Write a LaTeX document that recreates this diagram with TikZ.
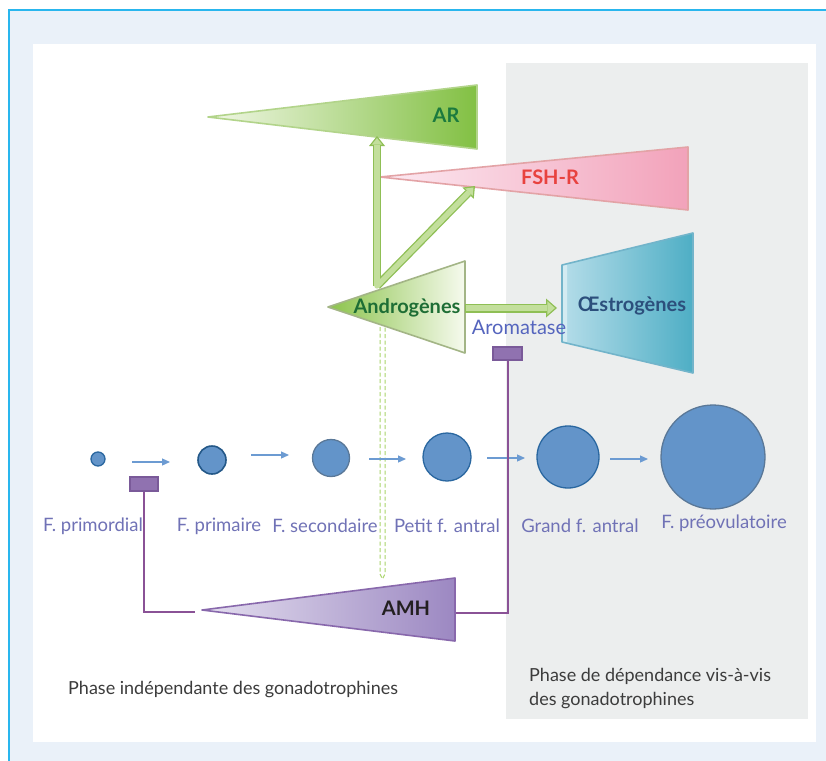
\documentclass[tikz,border=0pt]{standalone}
\usepackage{fontspec}
\setmainfont{Lato}
\usetikzlibrary{arrows.meta}
\definecolor{bgblue}{HTML}{EAF1F9}
\definecolor{frameblue}{HTML}{29B6EE}
\definecolor{panelgray}{HTML}{ECEEEE}
\definecolor{arL}{HTML}{F1F7E6}
\definecolor{arR}{HTML}{82C043}
\definecolor{arB}{HTML}{B2D48A}
\definecolor{arT}{HTML}{1B7A3E}
\definecolor{fsL}{HTML}{FCEAF2}
\definecolor{fsR}{HTML}{F2A2BA}
\definecolor{fsB}{HTML}{E3A3A6}
\definecolor{fsT}{HTML}{E8423F}
\definecolor{anL}{HTML}{8BC34A}
\definecolor{anR}{HTML}{F6FAEE}
\definecolor{anB}{HTML}{A3B586}
\definecolor{anT}{HTML}{1E6E35}
\definecolor{oeL}{HTML}{B5DDE9}
\definecolor{oeR}{HTML}{4EAEC5}
\definecolor{oeB}{HTML}{72B4CA}
\definecolor{oeT}{HTML}{2C4F7C}
\definecolor{amL}{HTML}{E4DFEF}
\definecolor{amR}{HTML}{9C88C2}
\definecolor{amB}{HTML}{8868AC}
\definecolor{amT}{HTML}{231F20}
\definecolor{gOut}{HTML}{8FBF55}
\definecolor{gIn}{HTML}{C3DF9C}
\definecolor{dashg}{HTML}{A9D46B}
\definecolor{folFill}{HTML}{6394C9}
\definecolor{folDark}{HTML}{2A67A0}
\definecolor{folGray}{HTML}{5A7898}
\definecolor{folArrow}{HTML}{6C9BD2}
\definecolor{labcol}{HTML}{7072B6}
\definecolor{aromcol}{HTML}{5565BE}
\definecolor{purp}{HTML}{8A5296}
\definecolor{inhFill}{HTML}{9072B0}
\definecolor{inhDraw}{HTML}{7A5A99}
\definecolor{phasecol}{HTML}{3C3C3C}
\tikzset{
  tri/.style={line width=1.6pt, line join=round},
  bigtxt/.style={font=\fontsize{20}{24}\selectfont\bfseries, inner sep=0pt},
  lab/.style={font=\fontsize{18.5}{22}\selectfont, text=labcol, inner sep=0pt},
  phase/.style={font=\fontsize{18}{24}\selectfont, text=phasecol, inner sep=0pt, align=left},
  follicle/.style={circle, fill=folFill, draw=folDark, line width=1.3pt, inner sep=0pt},
  follicleg/.style={follicle, draw=folGray},
  farrow/.style={draw=folArrow, line width=1.2pt, -{Triangle[length=8pt,width=7pt]}},
  gout/.style={draw=gOut, line width=8pt, -{Triangle[length=10pt,width=16pt,line width=0pt]}},
  gin/.style={draw=gIn, line width=5.4pt, shorten >=2.1pt, -{Triangle[length=6.6pt,width=10.6pt,line width=0pt]}},
  gouth/.style={draw=gOut, line width=9pt, -{Triangle[length=11pt,width=19pt,line width=0pt]}},
  ginh/.style={draw=gIn, line width=6.4pt, shorten >=2.1pt, -{Triangle[length=7.6pt,width=13.4pt,line width=0pt]}},
  pline/.style={draw=purp, line width=2pt},
  inhib/.style={rectangle, fill=inhFill, draw=inhDraw, line width=1.5pt, inner sep=0pt},
  dline/.style={draw=dashg, line width=1pt, dash pattern=on 4pt off 2.5pt}
}
\begin{document}
\begin{tikzpicture}[x=1pt,y=-1pt]
\useasboundingbox (0,0) rectangle (826,760);
\clip (0,0) rectangle (826,760);
% frame and panels
\fill[white] (0,0) rectangle (826,760);
\filldraw[fill=bgblue, draw=frameblue, line width=1.6pt] (9,10) rectangle (840,775);
\fill[white] (33,44) rectangle (816,742);
\fill[panelgray] (506,63) rectangle (808,719);

% AR
\coordinate (ARtip) at (208,117);
\coordinate (ARtop) at (477,85);
\coordinate (ARbot) at (477,149);
\shade[left color=arL, right color=arR] (ARtip) -- (ARtop) -- (ARbot) -- cycle;
\draw[tri, draw=arB] (ARtip) -- (ARtop) -- (ARbot) -- cycle;
\node[bigtxt, text=arT] (AR) at (446,115) {AR};

% FSH-R
\coordinate (FStip) at (380,177);
\coordinate (FStop) at (688,147);
\coordinate (FSbot) at (688,210);
\shade[left color=fsL, right color=fsR] (FStip) -- (FStop) -- (FSbot) -- cycle;
\draw[tri, draw=fsB] (FStip) -- (FStop) -- (FSbot) -- cycle;
\node[bigtxt, text=fsT] (FSH) at (550,177) {FSH-R};

% Androgenes
\coordinate (ANtip) at (328,307);
\coordinate (ANtop) at (465,261);
\coordinate (ANbot) at (465,353);
\shade[left color=anL, right color=anR] (ANtip) -- (ANtop) -- (ANbot) -- cycle;
\draw[tri, draw=anB] (ANtip) -- (ANtop) -- (ANbot) -- cycle;
\node[bigtxt, text=anT] (AN) at (407,308) {Androgènes};

% Oestrogenes
\coordinate (OEtl) at (562,265);
\coordinate (OEbl) at (562,342);
\coordinate (OEtr) at (693,233);
\coordinate (OEbr) at (693,373);
\shade[left color=oeL, right color=oeR] (OEtl) -- (OEtr) -- (OEbr) -- (OEbl) -- cycle;
\fill[oeL!60!white] (OEtl) -- (567,263) -- (567,343) -- (OEbl) -- cycle;
\draw[tri, draw=oeB] (OEtl) -- (OEtr) -- (OEbr) -- (OEbl) -- cycle;
\node[bigtxt, text=oeT] (OE) at (632,306) {Œstrogènes};

% AMH
\coordinate (AMtip) at (202,610);
\coordinate (AMtop) at (455,578);
\coordinate (AMbot) at (455,641);
\shade[left color=amL, right color=amR] (AMtip) -- (AMtop) -- (AMbot) -- cycle;
\draw[tri, draw=amB] (AMtip) -- (AMtop) -- (AMbot) -- cycle;
\node[bigtxt, text=amT] (AMH) at (406,608) {AMH};

% green block arrows
\coordinate (gstart) at (377,286);
\coordinate (gARend) at (377,136);
\coordinate (gFSend) at (475,186);
\coordinate (ghstart) at (465,308);
\coordinate (ghend) at (557,308);
\draw[gout] (gstart) -- (gARend);
\draw[gout] (gstart) -- (gFSend);
\draw[gin] (gstart) -- (gARend);
\draw[gin] (gstart) -- (gFSend);
\fill[gIn] (gstart) circle (2.7pt);
\draw[gouth] (ghstart) -- (ghend);
\draw[ginh] ([xshift=1.3pt]ghstart) -- (ghend);

\node[font=\fontsize{20}{24}\selectfont, text=aromcol, inner sep=0pt] (AROM) at (519,327) {Aromatase};

% dashed double line
\coordinate (dtopL) at (380,327);
\coordinate (dtopR) at (385,327);
\coordinate (dbotL) at (380,574);
\coordinate (dbotR) at (385,574);
\coordinate (dbot) at (382.5,579);
\draw[dline] (dtopL) -- (dbotL) -- (dbot) -- (dbotR) -- (dtopR);

% follicles
\node[follicle, minimum size=14pt] (f1) at (98,459) {};
\node[follicle, minimum size=28pt, line width=1.6pt, draw=folDark!85!black] (f2) at (212,460) {};
\node[follicleg, minimum size=37pt] (f3) at (331,458) {};
\node[follicle, minimum size=48pt] (f4) at (447,457) {};
\node[follicle, minimum size=62pt] (f5) at (568,457) {};
\node[follicleg, minimum size=104pt] (f6) at (713,457) {};

\coordinate (a1s) at (132,462); \coordinate (a1e) at (170,462);
\coordinate (a2s) at (251,455); \coordinate (a2e) at (289,455);
\coordinate (a3s) at (369,459); \coordinate (a3e) at (406,459);
\coordinate (a4s) at (487,458); \coordinate (a4e) at (525,458);
\coordinate (a5s) at (610,459); \coordinate (a5e) at (648,459);
\draw[farrow] (a1s) -- (a1e);
\draw[farrow] (a2s) -- (a2e);
\draw[farrow] (a3s) -- (a3e);
\draw[farrow] (a4s) -- (a4e);
\draw[farrow] (a5s) -- (a5e);

% labels
\node[lab] (l1) at (93,526) {F. primordial};
\node[lab] (l2) at (219,526) {F. primaire};
\node[lab] (l3) at (325,526) {F. secondaire};
\node[lab] (l4) at (447,526) {Petit f. antral};
\node[lab] (l5) at (580,526) {Grand f. antral};
\node[lab] (l6) at (724,523) {F. préovulatoire};

% inhibition (AMH)
\node[inhib, minimum width=28pt, minimum height=14pt] (inh1) at (144,484) {};
\node[inhib, minimum width=29pt, minimum height=13pt] (inh2) at (507.5,353.5) {};
\coordinate (amhL) at (195,612);
\coordinate (amhR) at (456,613);
\draw[pline] (inh1.south) |- (amhL);
\draw[pline] (inh2.south) |- (amhR);

% phases
\node[phase, anchor=west] (ph1) at (68,690) {Phase indépendante des gonadotrophines};
\node[phase, anchor=west] (ph2) at (529,689) {Phase de dépendance vis-à-vis\\des gonadotrophines};
\end{tikzpicture}
\end{document}
